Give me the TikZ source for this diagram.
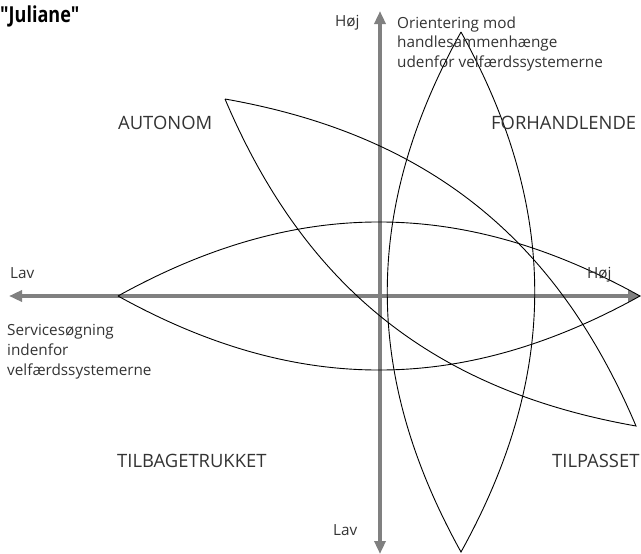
\documentclass[tikz,border=0pt]{standalone}
\usepackage{fontspec}
\setmainfont{Open Sans}
\newfontfamily\titlefont[FakeStretch=0.82]{Open Sans}
\usetikzlibrary{arrows.meta}
\definecolor{axisgray}{HTML}{808080}
\definecolor{textgray}{HTML}{333333}
\begin{document}
\begin{tikzpicture}[x=1pt,y=-1pt]
\useasboundingbox (0,0) rectangle (641,554);
\tikzset{
  axis/.style={draw=axisgray, line width=3.6pt,
    {Triangle[length=13pt,width=11pt,fill=axisgray]}-{Triangle[length=13pt,width=11pt,fill=axisgray]}},
  lens/.style={draw=black, line width=0.9pt},
  quad/.style={font=\fontsize{18.4}{22}\selectfont, text=textgray, inner sep=0pt, anchor=base west},
  small/.style={font=\fontsize{15.3}{19.7}\selectfont, text=textgray, inner sep=0pt, anchor=base west, align=left},
  title/.style={font=\titlefont\bfseries\fontsize{22}{24}\selectfont, inner sep=0pt, anchor=base west}
}
% axes
\coordinate (L) at (9,296);
\coordinate (R) at (641,296);
\coordinate (T) at (380,11);
\coordinate (B) at (380,554);
\draw[axis] (L) -- (R);
\draw[axis] (B) -- (T);
% lenses
\coordinate (H1) at (118,296);
\coordinate (H2) at (640,296);
\coordinate (V1) at (461,32);
\coordinate (V2) at (461,552);
\coordinate (D1) at (225,99);
\coordinate (D2) at (636,426);
\draw[lens] (H1) to[bend left=29] (H2) to[bend left=29] (H1);
\draw[lens] (V1) to[bend left=29] (V2) to[bend left=29] (V1);
\draw[lens] (D1) to[bend left=28.5] (D2) to[bend left=28.5] (D1);
% texts (multi-line nodes: base = last line)
\node[title] (ttl) at (0,22) {"Juliane"};
\node[small] (hojtop) at (335,27) {Høj};
\node[small] (orient) at (397,67.5) {Orientering mod\\handlesammenhænge\\udenfor velfærdssystemerne};
\node[small] (lavleft) at (10,278) {Lav};
\node[small] (serv) at (7,375) {Servicesøgning\\indenfor\\velfærdssystemerne};
\node[small] (hojright) at (587,278) {Høj};
\node[small] (lavbot) at (333,535) {Lav};
\node[quad] (aut) at (118,129.5) {AUTONOM};
\node[quad] (forh) at (491,129) {FORHANDLENDE};
\node[quad] (tilb) at (117,467) {TILBAGETRUKKET};
\node[quad] (tilp) at (552,467) {TILPASSET};
\end{tikzpicture}
\end{document}
